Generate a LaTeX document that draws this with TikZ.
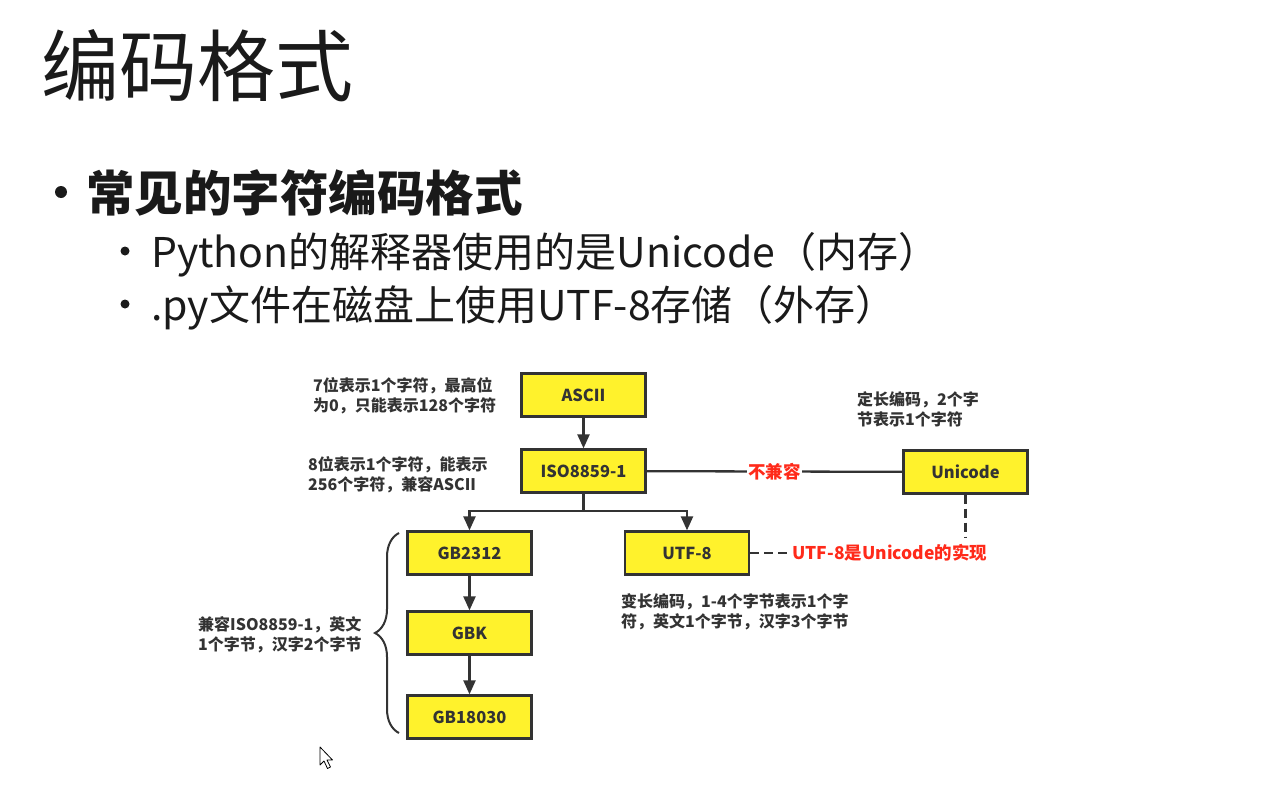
\documentclass[tikz,border=0pt]{standalone}
\usepackage{fontspec}
\setmainfont{Noto Sans CJK SC}
\usetikzlibrary{arrows.meta,decorations.pathreplacing,calc}
\definecolor{boxyellow}{HTML}{FFF22C}
\definecolor{ink}{HTML}{333333}
\definecolor{alert}{HTML}{FF2A1A}
\definecolor{slidetext}{HTML}{1A1A1A}

\begin{document}
\begin{tikzpicture}[x=1pt,y=-1pt,
  enc/.style={draw=ink, line width=2.3pt, fill=boxyellow, minimum width=124pt,
    minimum height=43pt, inner sep=0pt, font=\fontsize{16.5}{20}\selectfont\bfseries, text=ink},
  note/.style={anchor=north west, inner sep=0pt, align=left,
    font=\fontsize{16}{20}\selectfont\bfseries, text=ink},
  flow/.style={draw=ink, line width=2.3pt, -{Triangle[length=14pt,width=12pt]}},
  link/.style={draw=ink, line width=2.3pt},
  dashlink/.style={draw=ink, line width=2.3pt, dash pattern=on 9pt off 5pt},
  redlabel/.style={text=alert, font=\fontsize{17.5}{20}\selectfont\bfseries, inner sep=1pt},
  dot/.style={circle, fill=slidetext, inner sep=0pt},
  slideline/.style={anchor=base west, inner sep=0pt, text=slidetext},
]
% page
\fill[white] (0,0) rectangle (1288,795);
\useasboundingbox (0,0) rectangle (1288,795);

% heading and bullet list
\node[slideline, font=\fontsize{78}{78}\selectfont] (title) at (41,95) {编码格式};
\node[dot, minimum size=12pt] (b1) at (61,192) {};
\node[slideline, font=\fontsize{48.5}{48}\selectfont\bfseries] (h1) at (86,211) {常见的字符编码格式};
\node[dot, minimum size=9pt] (b2) at (125,251) {};
\node[slideline, font=\fontsize{41}{41}\selectfont] (h2) at (151,267) {Python的解释器使用的是Unicode（内存）};
\node[dot, minimum size=9pt] (b3) at (125,304) {};
\node[slideline, font=\fontsize{41}{41}\selectfont] (h3) at (151,320) {.py文件在磁盘上使用UTF-8存储（外存）};

% encodings
\node[enc] (ascii) at (583.5,395) {ASCII};
\node[enc] (iso) at (583.5,471) {ISO8859-1};
\node[enc] (uni) at (965.5,472) {Unicode};
\node[enc] (gb2312) at (469.5,553) {GB2312};
\node[enc] (utf8) at (687,553) {UTF-8};
\node[enc] (gbk) at (469.5,633) {GBK};
\node[enc] (gb18030) at (469.5,717) {GB18030};

% derivations
\draw[flow] (ascii) -- (iso);
\coordinate (split) at ($(iso.south)+(0,17)$);
\draw[link] (iso.south) -- (split);
\draw[flow] (split) -| (gb2312.north);
\draw[flow] (split) -| (utf8.north);
\draw[flow] (gb2312) -- (gbk);
\draw[flow] (gbk) -- (gb18030);

% ISO8859-1 vs Unicode
\draw[link] (iso) -- node[redlabel, fill=white] (incompat) {不兼容} (uni);

% UTF-8 implements Unicode
\node[redlabel, anchor=west] (impl) at (791,553) {UTF-8是Unicode的实现};
\draw[dashlink] (utf8.east) -- (impl.west);
\draw[dashlink] (uni.south) -- ($(uni.south |- impl.north)+(0,-5)$);

% GB family brace
\coordinate (braceb) at (399,733);
\coordinate (bracet) at (399,533);
\draw[ink, line width=2pt, decorate, decoration={brace, amplitude=24pt}] (braceb) -- (bracet);

% notes
\node[note] (n1) at (313,377) {7位表示1个字符，最高位\\为0，只能表示128个字符};
\node[note] (n2) at (308,456) {8位表示1个字符，能表示\\256个字符，兼容ASCII};
\node[note] (n3) at (857,391) {定长编码，2个字\\节表示1个字符};
\node[note] (n4) at (621,593) {变长编码，1-4个字节表示1个字\\符，英文1个字节，汉字3个字节};
\node[note] (n5) at (198,616) {兼容ISO8859-1，英文\\1个字节，汉字2个字节};

% mouse pointer
\draw[fill=white, draw=black, line width=0.8pt, line join=round]
  (320,747) -- (320,765) -- (324,761) -- (327.5,768.5) -- (330.5,767)
  -- (327,760) -- (332.5,760) -- cycle;
\end{tikzpicture}
\end{document}
